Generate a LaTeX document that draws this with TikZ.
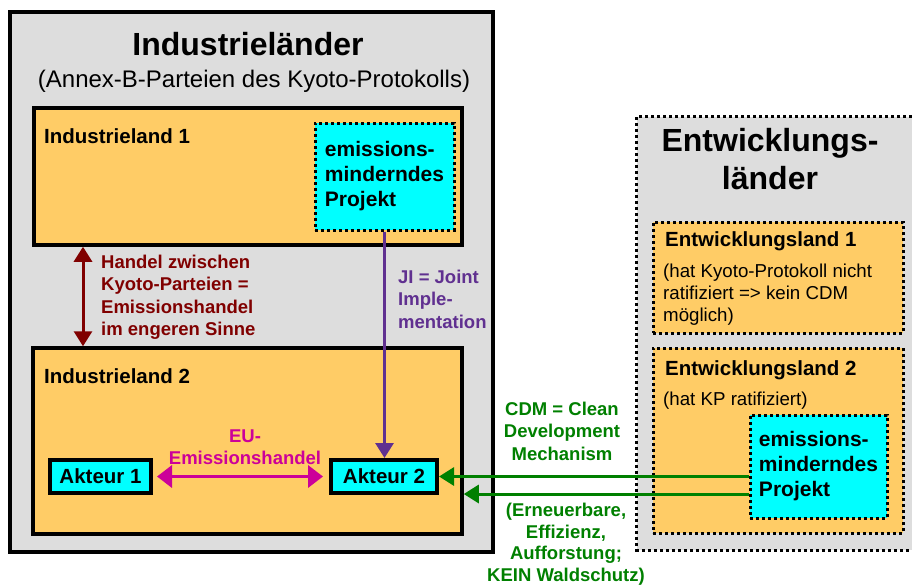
\documentclass[tikz,border=0pt]{standalone}
\usepackage{fontspec}
\setmainfont{Liberation Sans}
\usepackage{xcolor}
\definecolor{boxgray}{RGB}{221,221,221}
\definecolor{landorange}{RGB}{255,204,102}
\definecolor{projcyan}{RGB}{0,255,255}
\definecolor{handelred}{RGB}{128,0,0}
\definecolor{jipurple}{RGB}{96,48,144}
\definecolor{eumagenta}{RGB}{204,0,153}
\definecolor{cdmgreen}{RGB}{0,128,0}
\usepackage{tikz}
\usetikzlibrary{positioning,calc}
\usetikzlibrary{arrows.meta}
\tikzset{>={Triangle[length=15pt,width=18pt]}}
\tikzset{
  region/.style={draw=black,line width=3.5pt,fill=boxgray,inner sep=0pt},
  dotline/.style={draw=black,line width=3pt,dash pattern=on 3pt off 3pt},
  land/.style={draw=black,line width=3.5pt,fill=landorange,inner sep=0pt},
  dotland/.style={dotline,fill=landorange,inner sep=0pt},
  projekt/.style={dotline,fill=projcyan,inner sep=0pt,
    align=left,font=\fontsize{21}{25}\selectfont\bfseries},
  akteur/.style={draw=black,line width=4pt,fill=projcyan,inner sep=0pt,font=\fontsize{20.5}{24}\selectfont\bfseries},
  bigtitle/.style={inner sep=0pt,align=center,font=\fontsize{32}{38}\selectfont\bfseries},
  landlabel/.style={anchor=base west,inner sep=0pt,font=\fontsize{20.5}{24}\selectfont\bfseries},
  note/.style={inner sep=0pt,font=\fontsize{18.7}{22}\selectfont},
  arrowtext/.style={inner sep=0pt,font=\fontsize{18.5}{22.5}\selectfont\bfseries},
}

\begin{document}
\begin{tikzpicture}[x=1pt,y=-1pt]

\useasboundingbox (0,0) rectangle (912,587);
\fill[white] (0,0) rectangle (912,587);

% Industrielaender
\node[region,minimum width=483pt,minimum height=540pt] (ind) at (251.5,282) {};
\node[bigtitle,anchor=base] (indtitle) at (248,55) {Industrieländer};
\node[inner sep=0pt,anchor=base,font=\fontsize{24}{28}\selectfont] (indsub) at (254,87) {(Annex-B-Parteien des Kyoto-Protokolls)};

\node[land,minimum width=428pt,minimum height=137pt] (il1) at (248,176.5) {};
\node[landlabel] (il1label) at (44,143) {Industrieland 1};
\node[projekt,minimum width=139pt,minimum height=107pt] (proj1) at (384.5,176.5) {emissions-\\minderndes\\Projekt};

\node[land,minimum width=429pt,minimum height=186pt] (il2) at (247.5,441) {};
\node[landlabel] (il2label) at (44,383) {Industrieland 2};
\node[akteur,minimum width=101pt,minimum height=33pt] (akt1) at (100.5,476.5) {Akteur 1};
\node[akteur,minimum width=106pt,minimum height=33pt] (akt2) at (384,476.5) {Akteur 2};

% Entwicklungslaender (rechts offen, am Bildrand)
\node[fill=boxgray,inner sep=0pt,minimum width=275pt,minimum height=433pt] (ent) at (774.5,333.5) {};
\draw[dotline] (ent.north east) -- (ent.north west) -- (ent.south west) -- (ent.south east);
\node[bigtitle,anchor=north] (enttitle) at (770,128.6) {Entwicklungs-\\länder};

\node[dotland,minimum width=250pt,minimum height=111pt] (el1) at (778,277.5) {};
\node[landlabel] (el1label) at (665,246) {Entwicklungsland 1};
\node[note,anchor=north west,align=left] (el1note) at (663,263.4) {(hat Kyoto-Protokoll nicht\\ratifiziert => kein CDM\\möglich)};

\node[dotland,minimum width=250pt,minimum height=185pt] (el2) at (778,440.5) {};
\node[landlabel] (el2label) at (665,375) {Entwicklungsland 2};
\node[note,anchor=base west] (el2note) at (663,405) {(hat KP ratifiziert)};
\node[projekt,minimum width=137pt,minimum height=103pt] (proj2) at (818.5,466.5) {emissions-\\minderndes\\Projekt};

% Pfeile
\draw[<->,handelred,line width=3pt] (il1.south -| 83,0) -- (il2.north -| 83,0);
\node[arrowtext,handelred,anchor=north west,align=left] (handel) at (101,254.5) {Handel zwischen\\Kyoto-Parteien =\\Emissionshandel\\im engeren Sinne};

\draw[->,jipurple,line width=3pt] (proj1.south) -- (proj1.south |- akt2.north);
\node[arrowtext,jipurple,anchor=north west,align=left] (ji) at (398,269.5) {JI = Joint\\Imple-\\mentation};

\draw[{Triangle[length=15pt,width=22pt]}-{Triangle[length=15pt,width=22pt]},eumagenta,line width=3.5pt,shorten <=4pt,shorten >=6pt] (akt1.east) -- (akt2.west);
\node[arrowtext,eumagenta,anchor=north,align=center] (eu) at (245,429.5) {EU-\\Emissionshandel};

\draw[->,cdmgreen,line width=3pt] (akt2.east -| proj2.west) -- (akt2.east);
\draw[->,cdmgreen,line width=3pt] (proj2.west |- 0,494) -- (il2.east |- 0,494);
\node[arrowtext,cdmgreen,anchor=north,align=center] (cdm) at (562,401.5) {CDM = Clean\\Development\\Mechanism};
\node[arrowtext,cdmgreen,anchor=north,align=center,font=\fontsize{18.5}{21.5}\selectfont\bfseries] (cdmnote) at (566,503) {(Erneuerbare,\\Effizienz,\\Aufforstung;\\KEIN Waldschutz)};

\end{tikzpicture}
\end{document}
